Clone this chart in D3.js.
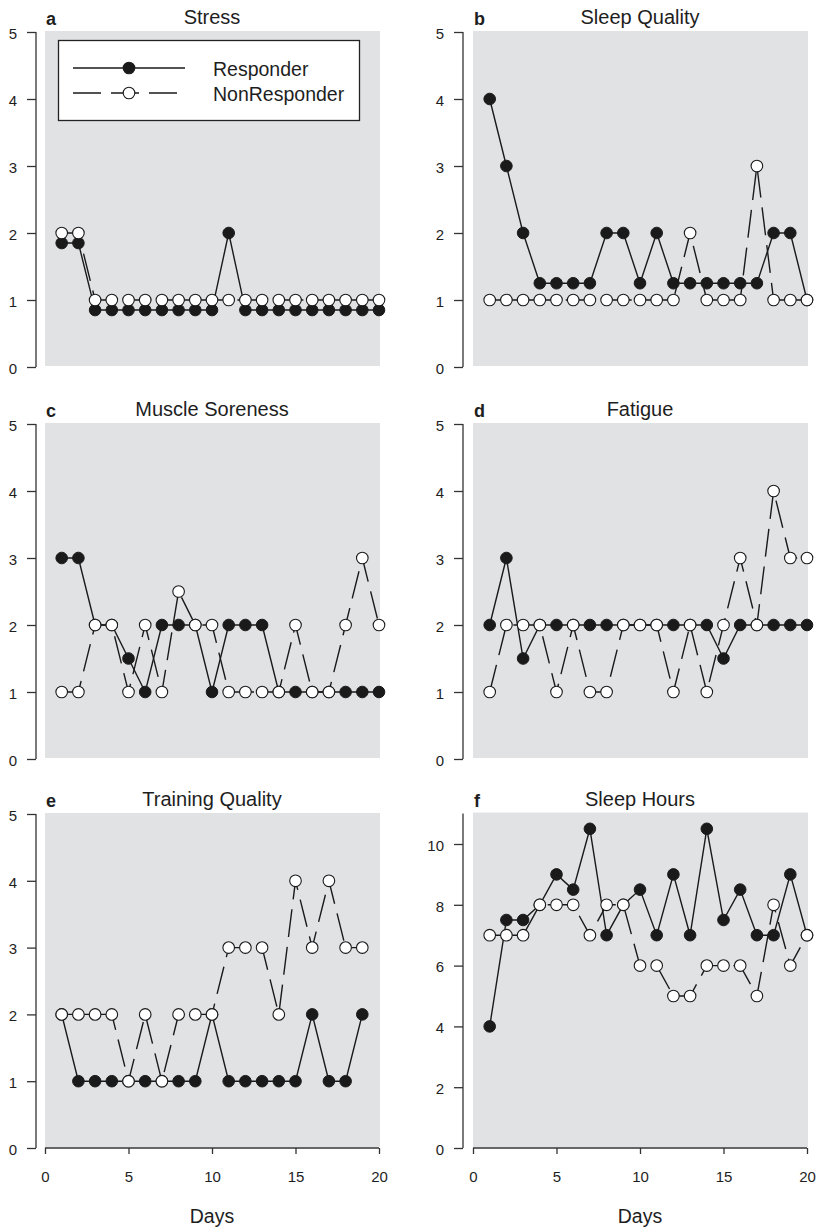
<!DOCTYPE html>
<html><head><meta charset="utf-8">
<script src="https://cdn.jsdelivr.net/npm/d3@7"></script>
<style>
body{margin:0;background:#fff}
svg{display:block}
text{font-family:"Liberation Sans",Arial,Helvetica,sans-serif;fill:#1e1e1e}
</style>
</head><body>
<svg id="chart" width="819" height="1230"></svg>
<script>
// ---------- data ----------
const days = [1,2,3,4,5,6,7,8,9,10,11,12,13,14,15,16,17,18,19,20];
const seriesNames = ["Responder", "NonResponder"];
const titles = ["Stress","Sleep Quality","Muscle Soreness","Fatigue","Training Quality","Sleep Hours"];
const panelLetters = ["a","b","c","d","e","f"];
const xTicks = [0,5,10,15,20];
const yTicksScore = [0,1,2,3,4,5];
const yTicksHours = [0,2,4,6,8,10];
const xLabel = "Days";

const stressResp = [1.85,1.85,0.85,0.85,0.85,0.85,0.85,0.85,0.85,0.85,2,0.85,0.85,0.85,0.85,0.85,0.85,0.85,0.85,0.85];
const stressNon  = [2,2,1,1,1,1,1,1,1,1,1,1,1,1,1,1,1,1,1,1];

const sleepQResp = [4,3,2,1.25,1.25,1.25,1.25,2,2,1.25,2,1.25,1.25,1.25,1.25,1.25,1.25,2,2,1];
const sleepQNon  = [1,1,1,1,1,1,1,1,1,1,1,1,2,1,1,1,3,1,1,1];

const sorenessResp = [3,3,2,2,1.5,1,2,2,2,1,2,2,2,1,1,1,1,1,1,1];
const sorenessNon  = [1,1,2,2,1,2,1,2.5,2,2,1,1,1,1,2,1,1,2,3,2];

const fatigueResp = [2,3,1.5,2,2,2,2,2,2,2,2,2,2,2,1.5,2,2,2,2,2];
const fatigueNon  = [1,2,2,2,1,2,1,1,2,2,2,1,2,1,2,3,2,4,3,3];

const trainingResp = [2,1,1,1,1,1,1,1,1,2,1,1,1,1,1,2,1,1,2];
const trainingNon  = [2,2,2,2,1,2,1,2,2,2,3,3,3,2,4,3,4,3,3];

const sleepHResp = [4,7.5,7.5,8,9,8.5,10.5,7,8,8.5,7,9,7,10.5,7.5,8.5,7,7,9,7];
const sleepHNon  = [7,7,7,8,8,8,7,8,8,6,6,5,5,6,6,6,5,8,6,7];

// ---------- layout ----------
const colAxisX = [36, 463];
const colX0 = [45, 473];
const colX1 = [379, 807];
const rowY0 = [367, 759, 1148];
const rowYTop = [32, 424, 814];

const panels = [
  {resp: stressResp,   non: stressNon,   col:0, row:0, ymax:5,  ticks:yTicksScore, legend:true},
  {resp: sleepQResp,   non: sleepQNon,   col:1, row:0, ymax:5,  ticks:yTicksScore},
  {resp: sorenessResp, non: sorenessNon, col:0, row:1, ymax:5,  ticks:yTicksScore},
  {resp: fatigueResp,  non: fatigueNon,  col:1, row:1, ymax:5,  ticks:yTicksScore},
  {resp: trainingResp, non: trainingNon, col:0, row:2, ymax:5,  ticks:yTicksScore, xaxis:true},
  {resp: sleepHResp,   non: sleepHNon,   col:1, row:2, ymax:11, ticks:yTicksHours, xaxis:true}
];

const svg = d3.select("#chart");
const BG = "#e1e2e4", INK = "#1a1a1a", AX = "#333";
const DASH = "28,10";
const R = 5.8;

panels.forEach((p, i) => {
  const g = svg.append("g");
  const x = d3.scaleLinear().domain([0, 20]).range([colX0[p.col], colX1[p.col]]);
  const y = d3.scaleLinear().domain([0, p.ymax]).range([rowY0[p.row], rowYTop[p.row]]);
  if (p.ymax === 11) y.range([rowY0[p.row], rowY0[p.row] - 11 * 30.4]);

  // background
  g.append("rect")
    .attr("x", x(0)).attr("y", y(p.ymax) - 1)
    .attr("width", x(20) - x(0) + 1).attr("height", y(0) - y(p.ymax))
    .attr("fill", BG);

  // y axis
  const ax = colAxisX[p.col];
  const ya = g.append("g").attr("transform", `translate(${ax},0)`)
    .call(d3.axisLeft(y).tickValues(p.ticks).tickSize(9).tickPadding(10).tickFormat(d3.format("d")));
  ya.select(".domain").attr("d", `M0,${y(0)}V${y(p.ymax)}`).attr("stroke", AX).attr("stroke-width", 1.3);
  ya.selectAll(".tick line").attr("stroke", AX).attr("stroke-width", 1.3);
  ya.selectAll(".tick text").attr("font-size", 15).attr("fill", "#222")
    .attr("font-family", '"Liberation Sans",Arial,sans-serif').attr("dy", "0.42em");

  // x axis
  if (p.xaxis) {
    const xa = g.append("g").attr("transform", `translate(0,${y(0)})`)
      .call(d3.axisBottom(x).tickValues(xTicks).tickSize(6).tickPadding(17).tickFormat(d3.format("d")));
    xa.select(".domain").attr("d", `M${x(0)},0H${x(20)}`).attr("stroke", AX).attr("stroke-width", 1.3);
    xa.selectAll(".tick line").attr("stroke", AX).attr("stroke-width", 1.3);
    xa.selectAll(".tick text").attr("font-size", 15).attr("fill", "#222")
      .attr("font-family", '"Liberation Sans",Arial,sans-serif');
    g.append("text").attr("x", (x(0) + x(20)) / 2).attr("y", 1223)
      .attr("text-anchor", "middle").attr("font-size", 19.5).text(xLabel);
  }

  // title + letter
  g.append("text").attr("x", (x(0) + x(20)) / 2).attr("y", y(p.ymax) - 8)
    .attr("text-anchor", "middle").attr("font-size", 20).text(titles[i]);
  g.append("text").attr("x", x(0) + 1).attr("y", y(p.ymax) - 7)
    .attr("font-size", 18).attr("font-weight", "bold").text(panelLetters[i]);

  const line = d3.line().x((d, k) => x(days[k])).y(d => y(d));

  // responder
  g.append("path").datum(p.resp).attr("d", line)
    .attr("fill", "none").attr("stroke", INK).attr("stroke-width", 1.4);
  g.selectAll(".rp").data(p.resp).enter().append("circle")
    .attr("cx", (d, k) => x(days[k])).attr("cy", d => y(d)).attr("r", R)
    .attr("fill", INK).attr("stroke", INK).attr("stroke-width", 1);

  // non responder
  g.append("path").datum(p.non).attr("d", line)
    .attr("fill", "none").attr("stroke", INK).attr("stroke-width", 1.4)
    .attr("stroke-dasharray", DASH);
  g.selectAll(".np").data(p.non).enter().append("circle")
    .attr("cx", (d, k) => x(days[k])).attr("cy", d => y(d)).attr("r", R)
    .attr("fill", "#fff").attr("stroke", INK).attr("stroke-width", 1.1);

  // legend
  if (p.legend) {
    const lg = g.append("g");
    lg.append("rect").attr("x", 58.5).attr("y", 40.5).attr("width", 301).attr("height", 80)
      .attr("fill", "#fff").attr("stroke", "#222").attr("stroke-width", 1.3);
    const rows = [68, 93];
    seriesNames.forEach((name, k) => {
      const ly = rows[k];
      lg.append("line").attr("x1", 73).attr("x2", 185).attr("y1", ly).attr("y2", ly)
        .attr("stroke", INK).attr("stroke-width", 1.4)
        .attr("stroke-dasharray", k === 1 ? DASH : null);
      lg.append("circle").attr("cx", 129).attr("cy", ly).attr("r", R)
        .attr("fill", k === 0 ? INK : "#fff").attr("stroke", INK).attr("stroke-width", 1.1);
      lg.append("text").attr("x", 213).attr("y", ly + 7.5).attr("font-size", 19.5).text(name);
    });
  }
});
</script>
</body></html>
